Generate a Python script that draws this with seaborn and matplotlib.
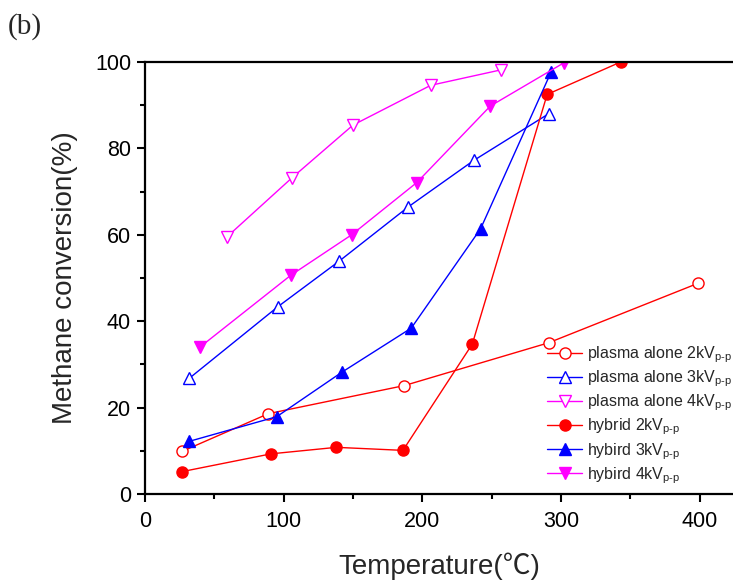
import matplotlib
matplotlib.use("Agg")
import matplotlib.pyplot as plt
import seaborn as sns
import pandas as pd
from matplotlib.ticker import MultipleLocator

sns.set_style("white")
plt.rcParams['font.family'] = ['Liberation Sans', 'Noto Sans CJK KR', 'DejaVu Sans']
plt.rcParams['mathtext.fontset'] = 'custom'
plt.rcParams['mathtext.rm'] = 'Liberation Sans'
plt.rcParams['mathtext.it'] = 'Liberation Sans'

# ---- data ----
p2_temp = [27, 89, 187, 291, 399]
p2_conv = [9.9, 18.6, 25.1, 35.0, 48.8]
p3_temp = [32, 96, 140, 190, 237, 291]
p3_conv = [26.8, 43.4, 53.9, 66.5, 77.2, 88.0]
p4_temp = [59, 106, 150, 206, 257]
p4_conv = [59.5, 73.2, 85.4, 94.6, 98.2]
h2_temp = [27, 91, 138, 186, 236, 290, 343]
h2_conv = [5.2, 9.3, 10.8, 10.1, 34.7, 92.5, 100.0]
h3_temp = [32, 95, 142, 192, 242, 293]
h3_conv = [12.2, 17.9, 28.2, 38.4, 61.4, 97.8]
h4_temp = [40, 105, 149, 196, 249, 302]
h4_conv = [34.1, 50.6, 60.0, 72.1, 89.8, 99.8]

sub = r'$_{\text{p-p}}$'
labels = ['plasma alone 2kV' + sub, 'plasma alone 3kV' + sub, 'plasma alone 4kV' + sub,
          'hybrid 2kV' + sub, 'hybird 3kV' + sub, 'hybird 4kV' + sub]

series = [
    (p2_temp, p2_conv, '#FF0000', 'o', False),
    (p3_temp, p3_conv, '#0000FF', '^', False),
    (p4_temp, p4_conv, '#FF00FF', 'v', False),
    (h2_temp, h2_conv, '#FF0000', 'o', True),
    (h3_temp, h3_conv, '#0000FF', '^', True),
    (h4_temp, h4_conv, '#FF00FF', 'v', True),
]

fig = plt.figure(figsize=(7.33, 5.82), dpi=100)
ax = fig.add_axes([145/733, 1 - 494/582, 1 - 145/733, (494 - 62)/582])

for (t, c, col, mk, filled), lab in zip(series, labels):
    df = pd.DataFrame({'Temperature': t, 'Conversion': c})
    ms = 9 if mk != 'o' else 8
    sns.lineplot(data=df, x='Temperature', y='Conversion', ax=ax, sort=False,
                 estimator=None, color=col, linewidth=1.0, marker=mk,
                 markersize=ms, markerfacecolor=col if filled else 'white',
                 markeredgecolor=col, markeredgewidth=1.0, label=lab)

ax.set_xlim(0, 424)
ax.set_ylim(0, 100)
ax.xaxis.set_major_locator(MultipleLocator(100))
ax.xaxis.set_minor_locator(MultipleLocator(50))
ax.yaxis.set_major_locator(MultipleLocator(20))
ax.yaxis.set_minor_locator(MultipleLocator(10))
ax.tick_params(which='both', direction='out', width=1.5, colors='black',
               labelsize=15.5, bottom=True, left=True, top=False, right=False)
ax.tick_params(which='major', length=6)
ax.tick_params(axis='x', which='major', pad=6)
ax.tick_params(axis='y', which='major', pad=4)
ax.tick_params(which='minor', length=3.5)
for s in ['left', 'bottom', 'top']:
    ax.spines[s].set_linewidth(1.6)
    ax.spines[s].set_color('black')
ax.spines['right'].set_visible(False)

ax.set_xlabel('Temperature(℃)', fontsize=20, labelpad=15)
ax.set_ylabel('Methane conversion(%)', fontsize=20, labelpad=12)

leg = ax.legend(loc='upper left', bbox_to_anchor=(0.684, 0.346), frameon=False,
                fontsize=11.5, handlelength=2.2, handletextpad=0.3,
                labelspacing=0.22, borderpad=0, borderaxespad=0)

fig.text(8/733, 1 - 27/582, '(b)', fontsize=21, family='Liberation Serif',
         va='center', ha='left')

fig.savefig('out.png', dpi=100)
